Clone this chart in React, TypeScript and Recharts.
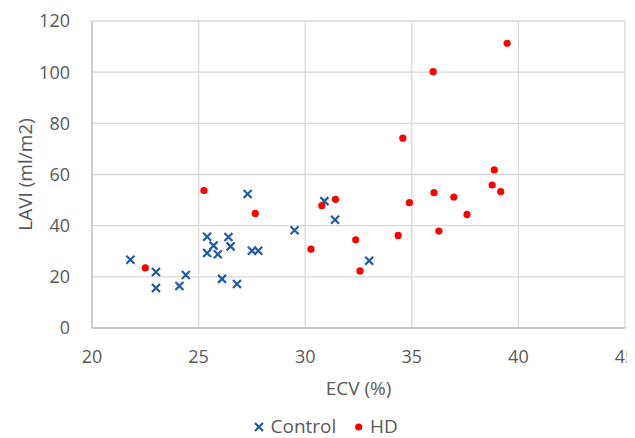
import React from 'react';
import { ScatterChart, Scatter, XAxis, YAxis, CartesianGrid, Legend } from 'recharts';

const controlECV = [21.8, 23.0, 23.0, 24.1, 24.4, 25.4, 25.4, 25.7, 25.9, 26.1, 26.4, 26.5, 26.8, 27.3, 27.5, 27.8, 29.5, 30.9, 31.4, 33.0];
const controlLAVI = [26.7, 21.9, 15.6, 16.4, 20.7, 35.7, 29.3, 32.2, 28.8, 19.2, 35.6, 31.9, 17.2, 52.4, 30.2, 30.2, 38.2, 49.6, 42.3, 26.3];
const hdECV = [22.5, 25.25, 27.66, 30.27, 30.78, 31.42, 32.37, 32.57, 34.36, 34.89, 36.04, 36.27, 36.97, 37.59, 38.77, 38.87, 39.17, 39.47, 36.0, 34.58];
const hdLAVI = [23.5, 53.7, 44.8, 30.8, 47.8, 50.3, 34.5, 22.3, 36.2, 49.0, 52.9, 37.9, 51.2, 44.4, 55.9, 61.8, 53.3, 111.3, 100.2, 74.2];

const xTicks = [20, 25, 30, 35, 40, 45];
const yTicks = [0, 20, 40, 60, 80, 100, 120];

const controlData = controlECV.map((x, i) => ({ x, y: controlLAVI[i] }));
const hdData = hdECV.map((x, i) => ({ x, y: hdLAVI[i] }));

const BLUE = '#1f5ba8';
const RED = '#ff0000';
const FONT = '"Open Sans", sans-serif';
const TXT = '#595959';

const XShape = (props: any) => {
  const { cx, cy } = props;
  const r = 4;
  return (
    <path
      d={`M${cx - r},${cy - r}L${cx + r},${cy + r}M${cx - r},${cy + r}L${cx + r},${cy - r}`}
      stroke={BLUE}
      strokeWidth={2.2}
      fill="none"
    />
  );
};

const DotShape = (props: any) => {
  const { cx, cy } = props;
  return <circle cx={cx} cy={cy} r={3.6} fill={RED} />;
};

const LegendContent = () => (
  <svg width={617} height={24} style={{ display: 'block', overflow: 'visible' }}>
    <g fontFamily={FONT} fontSize={19} fill={TXT}>
      <path d="M247,9L255,17M247,17L255,9" stroke={BLUE} strokeWidth={2.2} />
      <text x={262.5} y={19}>Control</text>
      <circle cx={350.7} cy={13} r={3.6} fill={RED} />
      <text x={362} y={19}>HD</text>
    </g>
  </svg>
);

export default function App() {
  return (
    <div style={{ width: 627, height: 430, fontFamily: FONT }}>
      <style>{'#root{width:627px;}'}</style>
      <ScatterChart width={627} height={430} margin={{ top: 13, right: 10, left: 0, bottom: 0 }}>
        <CartesianGrid stroke="#d9d9d9" strokeWidth={1.3} />
        <XAxis
          type="number"
          dataKey="x"
          domain={[20, 45]}
          ticks={xTicks}
          interval={0}
          height={86}
          axisLine={{ stroke: '#bfbfbf', strokeWidth: 1.3 }}
          tickLine={false}
          tickSize={0}
          tickMargin={22}
          tick={{ fill: TXT, fontSize: 18, fontFamily: FONT }}
          label={{ value: 'ECV (%)', position: 'insideTop', offset: 54, fill: TXT, fontSize: 19, fontFamily: FONT }}
        />
        <YAxis
          type="number"
          dataKey="y"
          domain={[0, 120]}
          ticks={yTicks}
          interval={0}
          width={84}
          axisLine={{ stroke: '#bfbfbf', strokeWidth: 1.3 }}
          tickLine={false}
          tickSize={0}
          tickMargin={22}
          tick={{ fill: TXT, fontSize: 18, fontFamily: FONT }}
          label={{ value: 'LAVI (ml/m2)', angle: -90, position: 'insideLeft', offset: 17, fill: TXT, fontSize: 19, fontFamily: FONT, style: { textAnchor: 'middle' } }}
        />
        <Legend verticalAlign="bottom" height={24} content={<LegendContent />} />
        <Scatter name="Control" data={controlData} shape={<XShape />} isAnimationActive={false} />
        <Scatter name="HD" data={hdData} shape={<DotShape />} isAnimationActive={false} />
      </ScatterChart>
    </div>
  );
}
